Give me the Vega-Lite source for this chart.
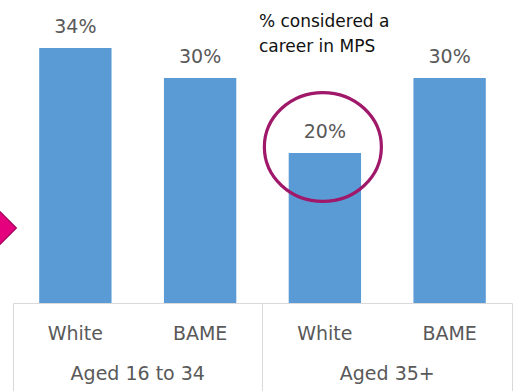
{
  "$schema": "https://vega.github.io/schema/vega-lite/v6.json",
  "width": 499,
  "height": 300,
  "autosize": {"type": "none"},
  "padding": {"left": 13, "top": 3, "right": 9, "bottom": 88},
  "background": "white",
  "config": {
    "view": {"stroke": null},
    "font": "DejaVu Sans",
    "axis": {
      "labelFont": "DejaVu Sans",
      "labelFontSize": 19,
      "labelColor": "#595959",
      "labelAngle": 0,
      "title": null,
      "grid": false
    }
  },
  "data": {
    "values": [
      {"age": "Aged 16 to 34", "ethnicity": "White", "bar": "Aged 16 to 34|White", "pct": 0.34},
      {"age": "Aged 16 to 34", "ethnicity": "BAME", "bar": "Aged 16 to 34|BAME", "pct": 0.30},
      {"age": "Aged 35+", "ethnicity": "White", "bar": "Aged 35+|White", "pct": 0.20},
      {"age": "Aged 35+", "ethnicity": "BAME", "bar": "Aged 35+|BAME", "pct": 0.30}
    ]
  },
  "layer": [
    {
      "encoding": {
        "x": {
          "field": "bar",
          "type": "nominal",
          "scale": {
            "domain": ["Aged 16 to 34|White", "Aged 16 to 34|BAME", "Aged 35+|White", "Aged 35+|BAME"],
            "paddingInner": 0.42,
            "paddingOuter": 0.21
          },
          "axis": {
            "labelExpr": "split(datum.label, '|')[1]",
            "ticks": false,
            "domain": true,
            "domainColor": "#D9D9D9",
            "domainWidth": 1,
            "labelPadding": 21
          }
        },
        "y": {
          "field": "pct",
          "type": "quantitative",
          "scale": {"domain": [0, 0.4]},
          "axis": null
        }
      },
      "layer": [
        {
          "mark": {"type": "bar", "color": "#5B9BD5"}
        },
        {
          "mark": {
            "type": "text",
            "baseline": "alphabetic",
            "dy": -15.5,
            "fontSize": 19,
            "color": "#595959",
            "font": "DejaVu Sans"
          },
          "encoding": {
            "text": {"field": "pct", "type": "quantitative", "format": ".0%"}
          }
        },
        {
          "transform": [{"filter": "datum.bar === 'Aged 35+|White'"}],
          "mark": {
            "type": "point",
            "shape": "M-1,0A1,0.93,0,1,1,1,0A1,0.93,0,1,1,-1,0Z",
            "size": 13689,
            "filled": false,
            "stroke": "#A0186A",
            "strokeWidth": 3.2,
            "opacity": 1,
            "xOffset": -2,
            "yOffset": -6
          }
        },
        {
          "transform": [{"filter": "datum.bar === 'Aged 35+|White'"}],
          "mark": {
            "type": "text",
            "align": "left",
            "baseline": "alphabetic",
            "dx": -66,
            "dy": 24,
            "fontSize": 17,
            "lineHeight": 25,
            "color": "#111111",
            "font": "DejaVu Sans"
          },
          "encoding": {
            "y": {"datum": 0.4},
            "text": {"value": ["% considered a", "career in MPS"]}
          }
        },
        {
          "transform": [{"filter": "datum.bar === 'Aged 16 to 34|White'"}],
          "mark": {
            "type": "point",
            "shape": "diamond",
            "size": 3600,
            "filled": true,
            "fill": "#E5007E",
            "stroke": "#A3005A",
            "strokeWidth": 1.2,
            "opacity": 1,
            "xOffset": -89
          },
          "encoding": {
            "y": {"datum": 0.1}
          }
        }
      ]
    },
    {
      "mark": {"type": "point", "opacity": 0},
      "encoding": {
        "x": {
          "field": "age",
          "type": "nominal",
          "sort": null,
          "scale": {"type": "band", "paddingInner": 0, "paddingOuter": 0},
          "axis": {
            "orient": "bottom",
            "bandPosition": 1,
            "tickExtra": true,
            "ticks": true,
            "tickSize": 90,
            "tickColor": "#D9D9D9",
            "tickWidth": 1,
            "domain": false,
            "labelPadding": -29
          }
        },
        "y": {"field": "pct", "type": "quantitative"}
      }
    }
  ],
  "resolve": {"scale": {"x": "independent"}}
}
